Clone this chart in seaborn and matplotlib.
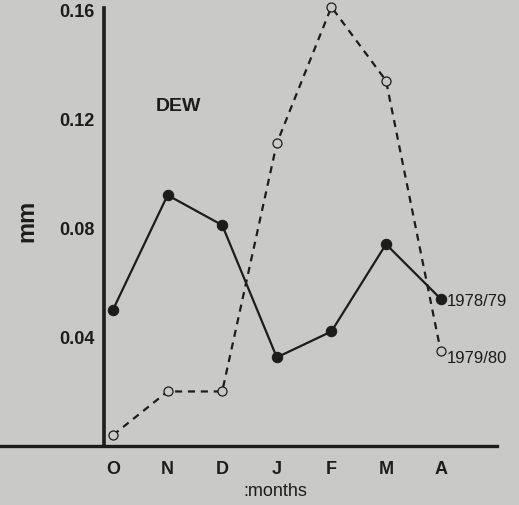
import matplotlib
matplotlib.use("Agg")
import matplotlib.pyplot as plt
import seaborn as sns
import pandas as pd
import numpy as np

months = ["O", "N", "D", "J", "F", "M", "A"]
dew_1978_79 = [0.050, 0.092, 0.081, 0.0325, 0.042, 0.074, 0.054]
dew_1979_80 = [0.004, 0.020, 0.020, 0.111, 0.161, 0.134, 0.035]
yticks = [0.04, 0.08, 0.12, 0.16]
ytick_labels = ["0.04", "0.08", "0.12", "0.16"]

bg = "#c9c9c7"
ink = "#1c1c1c"

sns.set_theme(style="white")
plt.rcParams["font.family"] = ["Liberation Sans", "DejaVu Sans"]

df = pd.DataFrame({
    "idx": list(range(len(months))) * 2,
    "val": dew_1978_79 + dew_1979_80,
    "series": ["1978/79"] * len(months) + ["1979/80"] * len(months),
})

fig = plt.figure(figsize=(5.19, 5.06), dpi=100, facecolor=bg)
ax = fig.add_axes([0.0, 0.1166, 0.9576, 0.866])
ax.set_facecolor(bg)

d1 = df[df.series == "1978/79"]
d2 = df[df.series == "1979/80"]
sns.lineplot(data=d1, x="idx", y="val", ax=ax, color=ink, linewidth=1.6,
             marker="o", markersize=7.5, markerfacecolor=ink, markeredgecolor=ink,
             clip_on=False, zorder=3)
sns.lineplot(data=d2, x="idx", y="val", ax=ax, color=ink, linewidth=1.6,
             linestyle=(0, (3.2, 2.6)), marker="o", markersize=6.5,
             markerfacecolor=bg, markeredgecolor=ink, markeredgewidth=0.9,
             clip_on=False, zorder=3)

spacing = 54.6
ax.set_xlim(-113 / spacing, (497 - 113) / spacing)
ax.set_ylim(0, 0.1607)

for s in ["top", "right"]:
    ax.spines[s].set_visible(False)
ax.spines["left"].set_position(("data", -9 / spacing))
ax.spines["left"].set_linewidth(2.6)
ax.spines["left"].set_color(ink)
ax.spines["bottom"].set_linewidth(2.4)
ax.spines["bottom"].set_color(ink)

ax.set_xticks(range(len(months)))
ax.set_xticklabels(months, fontsize=13, fontweight="bold", color=ink)
ax.set_yticks(yticks)
ax.set_yticklabels(ytick_labels, fontsize=13, fontweight="bold", color=ink)
ax.tick_params(axis="both", which="both", direction="out", length=4, width=1,
               color=ink, pad=3)
ax.tick_params(axis="x", pad=6)

ax.set_xlabel(":months", fontsize=13, color=ink)
ax.xaxis.set_label_coords(275 / 497, -0.082)
ax.set_ylabel("mm", fontsize=17, fontweight="bold", color=ink, rotation=90)
ax.yaxis.set_label_coords(38 / 497, 0.515)

ax.text(1.2, 0.125, "DEW", fontsize=14, fontweight="bold", color=ink,
        ha="center", va="center")
ax.text(6.12, dew_1978_79[-1] - 0.0005, "1978/79", fontsize=12, color=ink,
        ha="left", va="center", clip_on=False)
ax.text(6.12, dew_1979_80[-1] - 0.0025, "1979/80", fontsize=12, color=ink,
        ha="left", va="center", clip_on=False)

fig.savefig("out.png", dpi=100, facecolor=bg)
